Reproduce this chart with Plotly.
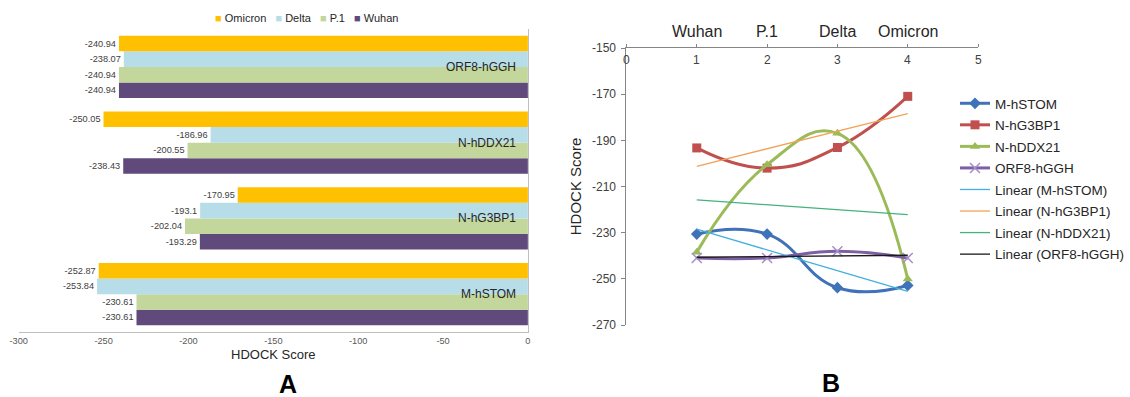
import numpy as np
import plotly.graph_objects as go

# ---------------- data ----------------
complexes = ["M-hSTOM", "N-hG3BP1", "N-hDDX21", "ORF8-hGGH"]
variants = ["Wuhan", "P.1", "Delta", "Omicron"]
wuhan = [-230.61, -193.29, -238.43, -240.94]
p1 = [-230.61, -202.04, -200.55, -240.94]
delta = [-253.84, -193.1, -186.96, -238.07]
omicron = [-252.87, -170.95, -250.05, -240.94]

variant_pos = [1, 2, 3, 4]
xticks_a = [-300, -250, -200, -150, -100, -50, 0]
xticks_b = [0, 1, 2, 3, 4, 5]
yticks_b = [-270, -250, -230, -210, -190, -170, -150]

bar_colors = {"Wuhan": "#604A7B", "P.1": "#C3D69B", "Delta": "#B7DDE8", "Omicron": "#FFC000"}
line_colors = {"M-hSTOM": "#3F72B8", "N-hG3BP1": "#C0504D", "N-hDDX21": "#9BBB59", "ORF8-hGGH": "#7D5FA3"}
marker_syms = {"M-hSTOM": "diamond", "N-hG3BP1": "square", "N-hDDX21": "triangle-up", "ORF8-hGGH": "x-thin"}
trend_colors = {"M-hSTOM": "#43B0DE", "N-hG3BP1": "#F0A35A", "N-hDDX21": "#43B27F", "ORF8-hGGH": "#1A1A1A"}

FONT = "Liberation Sans, Arial, sans-serif"
W, H = 1130, 397

def px_x(p):
    return p / W

def px_y(p):
    return 1 - p / H

fig = go.Figure()

# ---------------- Panel A: grouped horizontal bars ----------------
series = {"Wuhan": wuhan, "P.1": p1, "Delta": delta, "Omicron": omicron}
for name in variants:
    vals = series[name]
    fig.add_trace(go.Bar(
        x=vals, y=complexes, orientation="h", name=name,
        marker=dict(color=bar_colors[name], line=dict(width=0)),
        text=[f"{v:g}" for v in vals], textposition="outside",
        textfont=dict(size=9.2, color="#404040", family=FONT),
        cliponaxis=False, showlegend=False,
        xaxis="x", yaxis="y",
    ))

# ---------------- Panel B: smoothed lines + linear trends ----------------
by_complex = {c: [wuhan[i], p1[i], delta[i], omicron[i]] for i, c in enumerate(complexes)}
for c in complexes:
    is_x = c == "ORF8-hGGH"
    fig.add_trace(go.Scatter(
        x=variant_pos, y=by_complex[c], name=c, mode="lines+markers",
        line=dict(color=line_colors[c], width=3, shape="spline", smoothing=1.3),
        marker=dict(symbol=marker_syms[c], size=10 if is_x else 9,
                    color="#A58FC8" if is_x else line_colors[c],
                    line=dict(width=1.5, color="#A58FC8") if is_x else dict(width=0)),
        xaxis="x2", yaxis="y2", legendgroup=c, cliponaxis=False,
    ))
for c in complexes:
    slope, icpt = np.polyfit(variant_pos, by_complex[c], 1)
    xs = [variant_pos[0], variant_pos[-1]]
    fig.add_trace(go.Scatter(
        x=xs, y=[slope * x + icpt for x in xs], name=f"Linear ({c})", mode="lines",
        line=dict(color=trend_colors[c], width=1.3),
        xaxis="x2", yaxis="y2", legendgroup="lin" + c, cliponaxis=False,
    ))

# ---------------- annotations ----------------
legend_a = "   ".join(
    f'<span style="color:{bar_colors[v]}">■</span> {v}' for v in ["Omicron", "Delta", "P.1", "Wuhan"]
)
annotations = [
    dict(text=legend_a, x=px_x(311), y=px_y(18), xref="paper", yref="paper",
         showarrow=False, font=dict(size=11, color="#262626", family=FONT),
         xanchor="center", yanchor="middle"),
    dict(text="<b>A</b>", x=px_x(292), y=px_y(384), xref="paper", yref="paper",
         showarrow=False, font=dict(size=25, color="#000000", family=FONT),
         xanchor="center", yanchor="middle"),
    dict(text="<b>B</b>", x=px_x(844), y=px_y(383), xref="paper", yref="paper",
         showarrow=False, font=dict(size=25, color="#000000", family=FONT),
         xanchor="center", yanchor="middle"),
]
# category labels inside panel A, next to the axis at x = 0
for c in complexes:
    annotations.append(dict(text=c, x=0, y=c, xref="x", yref="y", xanchor="right",
                            yanchor="middle", xshift=-10, showarrow=False,
                            font=dict(size=12, color="#262626", family=FONT)))
# variant names above panel B
for pos, v in zip(variant_pos, variants):
    annotations.append(dict(text=v, x=pos, y=px_y(31), xref="x2", yref="paper",
                            showarrow=False, font=dict(size=16, color="#262626", family=FONT),
                            xanchor="center", yanchor="middle"))
# x tick labels of panel B, drawn below the top axis line
for t in xticks_b:
    annotations.append(dict(text=str(t), x=t, y=px_y(60), xref="x2", yref="paper",
                            showarrow=False, font=dict(size=12, color="#404040", family=FONT),
                            xanchor="center", yanchor="middle"))

fig.update_layout(
    template="none",
    width=W, height=H, autosize=False,
    margin=dict(l=0, r=0, t=0, b=0, pad=0),
    paper_bgcolor="white", plot_bgcolor="white",
    font=dict(family=FONT, color="#262626"),
    barmode="group", bargap=0.18, bargroupgap=0,
    xaxis=dict(domain=[px_x(19), px_x(536)], range=[-300, 0], anchor="y", automargin=False,
               tickvals=xticks_a, ticktext=[str(t) for t in xticks_a],
               tickfont=dict(size=9.2, color="#595959"), ticks="", showgrid=False,
               zeroline=False, showline=True, linecolor="#BFBFBF", linewidth=1,
               title=dict(text="HDOCK Score", font=dict(size=13, color="#262626"), standoff=4)),
    yaxis=dict(domain=[px_y(332), px_y(29)], anchor="x", side="right", automargin=False,
               showticklabels=False, ticks="", showgrid=False, zeroline=False,
               showline=True, linecolor="#BFBFBF", linewidth=1,
               categoryorder="array", categoryarray=complexes),
    xaxis2=dict(domain=[px_x(636), px_x(993)], range=[0, 5], anchor="y2", side="top",
                automargin=False, tickvals=xticks_b, showticklabels=False,
                ticks="outside", ticklen=3, tickcolor="#868686",
                showgrid=False, zeroline=False,
                showline=True, linecolor="#868686", linewidth=1),
    yaxis2=dict(domain=[px_y(325), px_y(48)], range=[-270, -150], anchor="x2", automargin=False,
                tickvals=yticks_b, ticktext=[str(t) for t in yticks_b],
                ticks="outside", ticklen=4, tickcolor="#868686", ticklabelstandoff=3,
                tickfont=dict(size=12, color="#404040"), showgrid=False, zeroline=False,
                showline=True, linecolor="#868686", linewidth=1,
                title=dict(text="HDOCK Score", font=dict(size=15, color="#262626"), standoff=6)),
    legend=dict(x=px_x(970), y=px_y(88), xanchor="left", yanchor="top",
                font=dict(size=13.5, color="#262626"), bgcolor="rgba(0,0,0,0)",
                tracegroupgap=1, itemwidth=30, borderwidth=0),
    annotations=annotations,
)

fig.write_html("out.html")
